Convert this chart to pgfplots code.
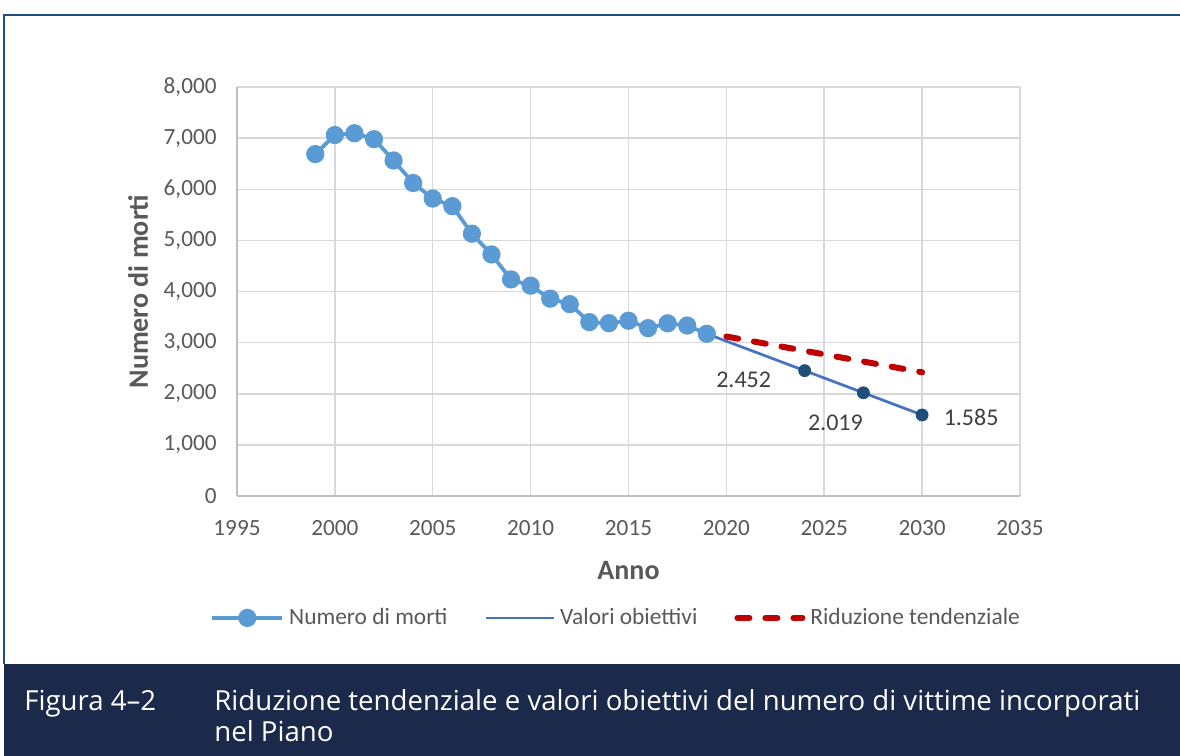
\documentclass[border=0pt]{standalone}
\usepackage{fontspec}
\setmainfont{Carlito}
\newfontfamily\capfont{Open Sans}
\usepackage{pgfplots}
\pgfplotsset{compat=1.18}

\definecolor{morti}{HTML}{5B9BD5}
\definecolor{obiett}{HTML}{4472C4}
\definecolor{obmark}{HTML}{1F4E79}
\definecolor{tend}{HTML}{C00000}
\definecolor{gridc}{HTML}{D9D9D9}
\definecolor{axisc}{HTML}{BFBFBF}
\definecolor{tickc}{HTML}{595959}
\definecolor{labc}{HTML}{404040}
\definecolor{frame}{HTML}{1F4E79}
\definecolor{capbg}{HTML}{1B2A4A}

\pgfplotsset{
  legmark/.style={legend image code/.code={\draw[##1,mark repeat=2,mark phase=2] plot coordinates {(0pt,0pt) (17.5pt,0pt) (35pt,0pt)};}},
  legline/.style={legend image code/.code={\draw[##1] (0pt,0pt) -- (34pt,0pt);}},
  legdash/.style={legend image code/.code={\draw[##1] (1.5pt,0pt) -- (34pt,0pt);}},
}

\pgfplotstableread{
x y
1999 6688
2000 7061
2001 7096
2002 6980
2003 6563
2004 6122
2005 5818
2006 5669
2007 5131
2008 4725
2009 4237
2010 4114
2011 3860
2012 3753
2013 3401
2014 3381
2015 3428
2016 3283
2017 3378
2018 3334
2019 3173
}\morti

\begin{document}
\begin{tikzpicture}
% page: 590pt x 378pt (1px = 0.5pt)
\useasboundingbox (0,0) rectangle (590pt,378pt);
\fill[white] (0,0) rectangle (590pt,378pt);
\draw[frame,line width=1pt] (2pt,46pt) -- (2pt,370.5pt) -- (591pt,370.5pt);
\fill[capbg] (2pt,0) rectangle (591pt,46pt);
\tikzset{captxt/.style={anchor=base west,inner sep=0,text=white,font=\capfont\fontsize{13.8pt}{16pt}\selectfont}}
\node[captxt] at (12pt,22.6pt) {Figura 4–2};
\node[captxt] at (107pt,22.6pt) {Riduzione tendenziale e valori obiettivi del numero di vittime incorporati};
\node[captxt] at (107pt,7.2pt) {nel Piano};

\begin{axis}[
  at={(118.5pt,130pt)}, anchor=south west,
  scale only axis, width=391.5pt, height=204.5pt,
  xmin=1995, xmax=2035, ymin=0, ymax=8000,
  xtick={1995,2000,...,2035}, ytick={0,1000,...,8000},
  major tick length=0pt,
  axis x line*=bottom, axis y line*=left,
  axis line style={draw=axisc,line width=1pt},
  grid=major, grid style={draw=gridc,line width=0.75pt},
  /pgf/number format/assume math mode=true,
  /pgf/number format/1000 sep={,},
  xticklabel style={/pgf/number format/1000 sep={},yshift=-8.6pt},
  yticklabel style={xshift=-6.7pt},
  tick label style={font=\fontsize{11.6pt}{13pt}\selectfont,text=tickc},
  xlabel={Anno}, ylabel={Numero di morti},
  label style={font=\bfseries\fontsize{14pt}{16pt}\selectfont,text=tickc},
  xlabel style={at={(axis description cs:0.5,-0.181)},anchor=center},
  ylabel style={at={(axis description cs:-0.1264,0.5)},anchor=center},
  clip=false,
  legend columns=3,
  legend style={at={(axis description cs:-0.0345,-0.298)},anchor=west,
    draw=none,fill=none,font=\fontsize{11.7pt}{13pt}\selectfont,text=tickc,
    inner sep=0pt,
    /tikz/every odd column/.append style={column sep=0.5pt},
    /tikz/every even column/.append style={column sep=16.5pt}},
  legend cell align=left,
]
\addplot[morti,line width=1.9pt,mark=*,mark size=3.6pt,mark options={fill=morti,draw=morti},legmark]
  table[x=x,y=y]{\morti};
\addlegendentry{Numero di morti}
\addplot[obiett,line width=1.35pt,legline]
  coordinates {(2019,3173) (2024,2452) (2027,2019) (2030,1585)};
\addlegendentry{Valori obiettivi}
\addplot[tend,line width=3pt,line cap=round,dash pattern=on 6pt off 8pt,legdash]
  coordinates {(2020,3120) (2030,2420)};
\addlegendentry{Riduzione tendenziale}
\addplot[only marks,mark=*,mark size=3pt,mark options={fill=obmark,draw=obmark},forget plot]
  coordinates {(2024,2452) (2027,2019) (2030,1585)};
\node[font=\fontsize{12pt}{14pt}\selectfont,text=labc] at ([shift={(-30.5pt,-4.5pt)}]axis cs:2024,2452) {2.452};
\node[font=\fontsize{12pt}{14pt}\selectfont,text=labc] at ([shift={(-14pt,-15pt)}]axis cs:2027,2019) {2.019};
\node[font=\fontsize{12pt}{14pt}\selectfont,text=labc] at ([shift={(24.5pt,-1pt)}]axis cs:2030,1585) {1.585};
\end{axis}
\end{tikzpicture}
\end{document}
